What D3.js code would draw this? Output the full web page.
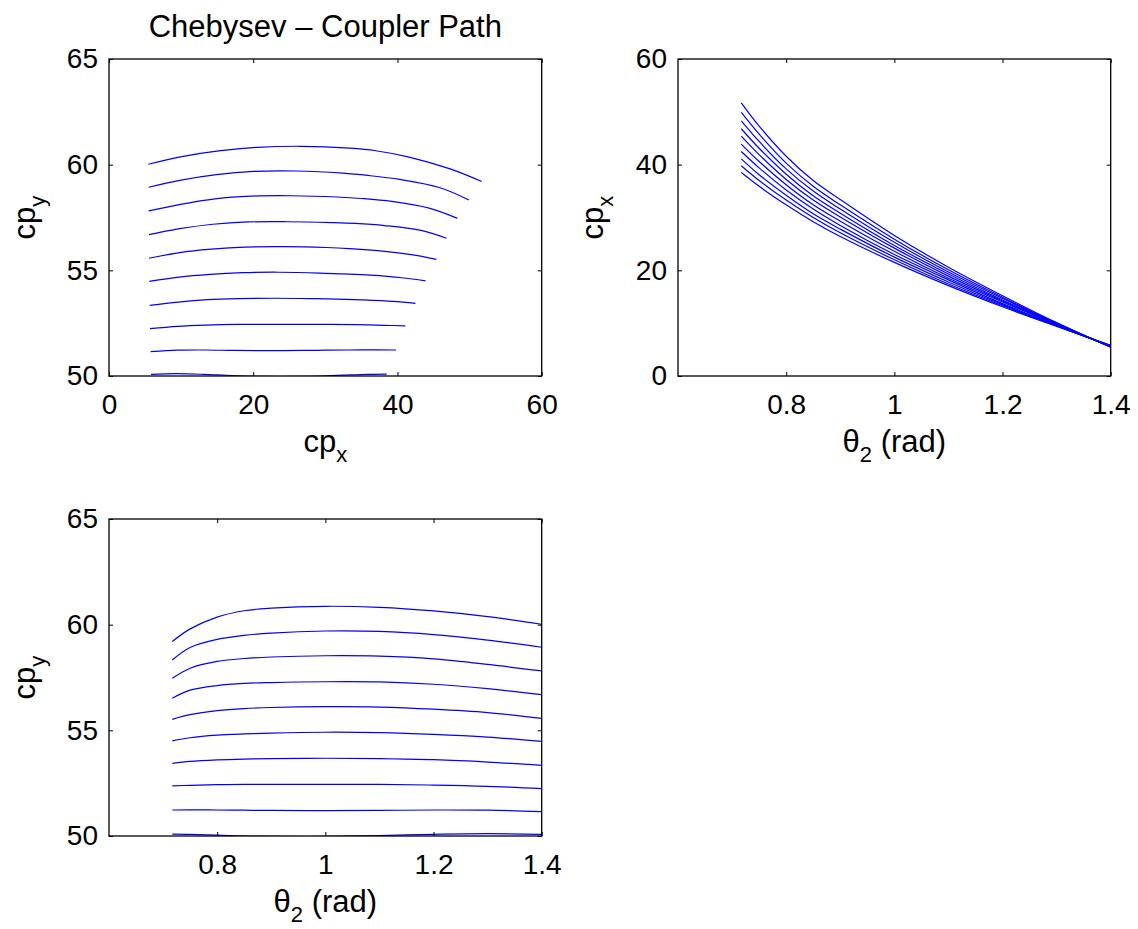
<!DOCTYPE html>
<html>
<head>
<meta charset="utf-8">
<script src="https://cdn.jsdelivr.net/npm/d3@7"></script>
<style>
  body { margin: 0; background: #fff; }
  svg text { font-family: "Liberation Sans", Arial, Helvetica, sans-serif; fill: #000; }
</style>
</head>
<body>
<svg id="fig" width="1138" height="929"></svg>
<script>
// Crank angle samples (rad)
const theta2 = [0.717, 0.75, 0.8, 0.85, 0.9, 1.0, 1.1, 1.2, 1.3, 1.4];

// Coupler point x, one row per linkage configuration
const cpX = [
  [51.7, 47.3, 41.6, 37.0, 33.4, 26.6, 20.6, 15.2, 10.1, 5.46],
  [49.9, 45.8, 40.3, 35.9, 32.4, 25.9, 20.1, 14.9, 10.0, 5.50],
  [48.3, 44.4, 39.2, 35.0, 31.6, 25.3, 19.7, 14.7, 9.9, 5.50],
  [46.8, 43.1, 38.2, 34.1, 30.8, 24.7, 19.3, 14.4, 9.8, 5.55],
  [45.4, 41.9, 37.2, 33.3, 30.1, 24.2, 18.9, 14.2, 9.8, 5.55],
  [43.9, 40.6, 36.2, 32.4, 29.3, 23.6, 18.5, 14.0, 9.7, 5.59],
  [42.5, 39.4, 35.2, 31.6, 28.5, 23.0, 18.2, 13.7, 9.6, 5.64],
  [41.1, 38.1, 34.2, 30.7, 27.8, 22.5, 17.8, 13.5, 9.5, 5.69],
  [39.8, 37.0, 33.3, 30.0, 27.1, 22.0, 17.4, 13.3, 9.5, 5.78],
  [38.5, 35.9, 32.4, 29.2, 26.4, 21.5, 17.1, 13.1, 9.4, 5.83]
];

// Coupler point y, same rows as cpX
const cpY = [
  [59.20, 59.80, 60.36, 60.66, 60.78, 60.87, 60.82, 60.65, 60.38, 60.02],
  [58.33, 58.92, 59.30, 59.49, 59.60, 59.70, 59.68, 59.53, 59.27, 58.93],
  [57.46, 57.94, 58.26, 58.40, 58.47, 58.53, 58.51, 58.38, 58.12, 57.81],
  [56.52, 56.90, 57.12, 57.22, 57.26, 57.30, 57.29, 57.18, 56.97, 56.69],
  [55.52, 55.74, 55.93, 56.03, 56.08, 56.12, 56.10, 56.00, 55.84, 55.57],
  [54.50, 54.65, 54.77, 54.83, 54.87, 54.91, 54.89, 54.81, 54.68, 54.48],
  [53.44, 53.53, 53.60, 53.64, 53.66, 53.68, 53.66, 53.61, 53.50, 53.34],
  [52.37, 52.40, 52.43, 52.44, 52.44, 52.44, 52.44, 52.41, 52.35, 52.24],
  [51.23, 51.24, 51.23, 51.22, 51.21, 51.20, 51.21, 51.23, 51.22, 51.15],
  [50.09, 50.08, 50.04, 50.00, 49.98, 49.98, 50.02, 50.08, 50.11, 50.08]
];

// Axis limits and tick values
const cpXLimits = [0, 60];
const cpYLimits = [50, 65];
const thetaLimits = [0.6, 1.4];
const cpXTicks = [0, 20, 40, 60];
const cpYTicks = [50, 55, 60, 65];
const thetaTicks = [0.8, 1, 1.2, 1.4];

const titleText = "Chebysev \u2013 Coupler Path";

const svg = d3.select("#fig");
const TICK_FONT = 28, LABEL_FONT = 31, SUB_FONT = 22;
const LINE_COLOR = "#0000ff";

function label(g, x, y, main, sub, tail, rotate) {
  const t = g.append("text")
    .attr("text-anchor", "middle")
    .attr("font-size", LABEL_FONT)
    .attr("transform", `translate(${x},${y})` + (rotate ? " rotate(-90)" : ""));
  t.append("tspan").text(main);
  t.append("tspan").attr("font-size", SUB_FONT).attr("dy", 10).text(sub);
  if (tail) t.append("tspan").attr("dy", -10).text(tail);
  return t;
}

function panel(cfg, idx) {
  const { left, right, top, bottom } = cfg.box;
  const x = d3.scaleLinear().domain(cfg.xDomain).range([left, right]);
  const y = d3.scaleLinear().domain(cfg.yDomain).range([bottom, top]);
  const g = svg.append("g");

  const clipId = "clip" + idx;
  svg.append("defs").append("clipPath").attr("id", clipId)
    .append("rect").attr("x", left).attr("y", top)
    .attr("width", right - left).attr("height", bottom - top);

  const line = d3.line()
    .x(d => x(d[0])).y(d => y(d[1]))
    .curve(d3.curveCatmullRom.alpha(0.5));

  g.append("g").attr("clip-path", `url(#${clipId})`)
    .selectAll("path").data(cfg.series).join("path")
    .attr("d", line)
    .attr("fill", "none")
    .attr("stroke", LINE_COLOR)
    .attr("stroke-width", 1.2);

  const styleAxis = (a, withText) => {
    a.select(".domain").remove();
    a.selectAll(".tick line").attr("stroke", "#000").attr("stroke-width", 1);
    if (withText) {
      a.attr("font-family", null).attr("font-size", null);
      a.selectAll(".tick text").attr("font-size", TICK_FONT).attr("fill", "#000");
    } else {
      a.selectAll(".tick text").remove();
    }
  };

  const fmt = d => String(d);
  g.append("g").attr("transform", `translate(0,${bottom})`)
    .call(d3.axisBottom(x).tickValues(cfg.xTicks).tickFormat(fmt).tickSizeInner(-4).tickSizeOuter(0).tickPadding(18))
    .call(a => styleAxis(a, true));
  g.append("g").attr("transform", `translate(0,${top})`)
    .call(d3.axisTop(x).tickValues(cfg.xTicks).tickSizeInner(-4).tickSizeOuter(0))
    .call(a => styleAxis(a, false));
  g.append("g").attr("transform", `translate(${left},0)`)
    .call(d3.axisLeft(y).tickValues(cfg.yTicks).tickFormat(fmt).tickSizeInner(-4).tickSizeOuter(0).tickPadding(11))
    .call(a => styleAxis(a, true));
  g.append("g").attr("transform", `translate(${right},0)`)
    .call(d3.axisRight(y).tickValues(cfg.yTicks).tickSizeInner(-4).tickSizeOuter(0))
    .call(a => styleAxis(a, false));

  g.append("rect")
    .attr("x", left).attr("y", top)
    .attr("width", right - left).attr("height", bottom - top)
    .attr("fill", "none").attr("stroke", "#000").attr("stroke-width", 1.3);

  const cx = (left + right) / 2, cy = (top + bottom) / 2;
  label(g, cx, bottom + 76, cfg.xLabel[0], cfg.xLabel[1], cfg.xLabel[2], false);
  label(g, left - cfg.yLabelOffset, cy, cfg.yLabel[0], cfg.yLabel[1], cfg.yLabel[2], true);
  if (cfg.title) {
    g.append("text").attr("x", cx).attr("y", top - 22)
      .attr("text-anchor", "middle").attr("font-size", LABEL_FONT).text(cfg.title);
  }
}

// Pair up the sampled values for each view
const pathSeries = cpX.map((row, i) => row.map((v, j) => [v, cpY[i][j]]));
const xThetaSeries = cpX.map(row => row.map((v, j) => [theta2[j], v]));
const yThetaSeries = cpY.map(row => row.map((v, j) => [theta2[j], v]));

panel({
  box: { left: 109, right: 541.7, top: 59, bottom: 376 },
  xDomain: cpXLimits, yDomain: cpYLimits,
  xTicks: cpXTicks, yTicks: cpYTicks,
  series: pathSeries,
  xLabel: ["cp", "x"], yLabel: ["cp", "y"], yLabelOffset: 74,
  title: titleText
}, 1);

panel({
  box: { left: 678, right: 1110.7, top: 59, bottom: 376 },
  xDomain: thetaLimits, yDomain: cpXLimits,
  xTicks: thetaTicks, yTicks: cpXTicks,
  series: xThetaSeries,
  xLabel: ["\u03b8", "2", " (rad)"], yLabel: ["cp", "x"], yLabelOffset: 75
}, 2);

panel({
  box: { left: 109, right: 541.7, top: 519, bottom: 836 },
  xDomain: thetaLimits, yDomain: cpYLimits,
  xTicks: thetaTicks, yTicks: cpYTicks,
  series: yThetaSeries,
  xLabel: ["\u03b8", "2", " (rad)"], yLabel: ["cp", "y"], yLabelOffset: 74
}, 3);
</script>
</body>
</html>
